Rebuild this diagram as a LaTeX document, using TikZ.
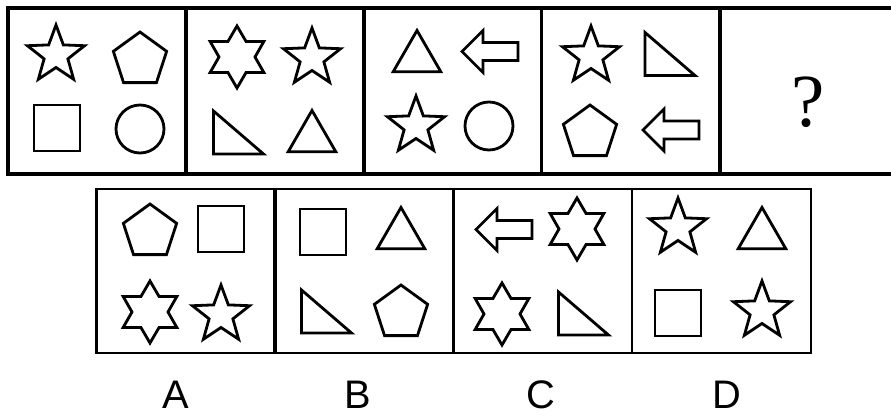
\documentclass[tikz,border=0pt]{standalone}
\usepackage{fontspec}
\newfontfamily\optfont{Liberation Sans}
\newfontfamily\qmarkfont{Liberation Serif}
\usepackage{tikz}

\tikzset{
  fig/.style={draw, line width=2.4pt, line join=miter},
  pics/fivestar/.style={code={
    \path[fig] (-90:30) \foreach \k in {1,...,9} {-- ({-90+36*\k}:{30-17.5*mod(\k,2)})} -- cycle;}},
  pics/sixstar/.style={code={
    \path[fig] (-90:31) \foreach \k in {1,...,11} {-- ({-90+30*\k}:{31-13*mod(\k,2)})} -- cycle;}},
  pics/pentagon/.style={code={
    \path[fig] (-90:28) \foreach \k in {1,...,4} {-- ({-90+72*\k}:28)} -- cycle;}},
  pics/triangle/.style={code={
    \path[fig] (-90:27.5) -- (30:27.5) -- (150:27.5) -- cycle;}},
  pics/righttri/.style={code={
    \path[fig] (-25,-21.5) -- (-25,21.5) -- (25,21.5) -- cycle;}},
  pics/square/.style={code={
    \path[fig] (-23,-23) rectangle (23,23);}},
  pics/ring/.style={code={
    \path[fig] (0,0) circle (24);}},
  pics/leftarrow/.style={code={
    \path[fig] (-28,0) -- (-7,-21) -- (-7,-9) -- (28,-9) -- (28,9) -- (-7,9) -- (-7,21) -- cycle;}},
}

\begin{document}
\begin{tikzpicture}[
  x=0.3mm, y=-0.3mm,
  toppanel/.style={draw, line width=2.8pt, minimum width=53.4mm, minimum height=49.8mm},
  optpanel/.style={draw, line width=2.2pt, minimum width=53.6mm, minimum height=49.2mm},
  optlabel/.style={font=\optfont\fontsize{34}{34}\selectfont}
]
  \useasboundingbox (0,0) rectangle (891,419);
  \clip (0,0) rectangle (891,419);

  % question row
  \node[toppanel] (q1) at (97,91)    {};
  \node[toppanel] (q2) at (275,91)   {};
  \node[toppanel] (q3) at (452.5,91) {};
  \node[toppanel] (q4) at (630.5,91) {};
  \node[toppanel] (q5) at (809,91)   {};

  \pic (q1a) at (56,55)   {fivestar};
  \pic (q1b) at (140,60)  {pentagon};
  \pic (q1c) at (57,128)  {square};
  \pic (q1d) at (140,129) {ring};

  \pic (q2a) at (237,57)      {sixstar};
  \pic (q2b) at (312,58)      {fivestar};
  \pic (q2c) at (238.5,132.5) {righttri};
  \pic (q2d) at (312,138)     {triangle};

  \pic (q3a) at (417,58)   {triangle};
  \pic (q3b) at (490,51.5) {leftarrow};
  \pic (q3c) at (416,126)  {fivestar};
  \pic (q3d) at (489,126)  {ring};

  \pic (q4a) at (591,56)  {fivestar};
  \pic (q4b) at (670,54)  {righttri};
  \pic (q4c) at (590,133) {pentagon};
  \pic (q4d) at (671,130) {leftarrow};

  \node[font=\qmarkfont\fontsize{64}{64}\selectfont, inner sep=0pt] (qm) at (808,102) {?};

  % options
  \node[optpanel] (oa) at (186,271)   {};
  \node[optpanel] (ob) at (364,271)   {};
  \node[optpanel] (oc) at (542.5,271) {};
  \node[optpanel] (od) at (721.5,271) {};

  \pic (oa1) at (150,232) {pentagon};
  \pic (oa2) at (221,229) {square};
  \pic (oa3) at (150,312) {sixstar};
  \pic (oa4) at (221,315) {fivestar};

  \pic (ob1) at (323,232)     {square};
  \pic (ob2) at (401,235)     {triangle};
  \pic (ob3) at (326.5,311.5) {righttri};
  \pic (ob4) at (401,313)     {pentagon};

  \pic (oc1) at (504,229.5)   {leftarrow};
  \pic (oc2) at (577,229)     {sixstar};
  \pic (oc3) at (502,314)     {sixstar};
  \pic (oc4) at (583.5,313.5) {righttri};

  \pic (od1) at (678,228) {fivestar};
  \pic (od2) at (762,235) {triangle};
  \pic (od3) at (678,313) {square};
  \pic (od4) at (762,311) {fivestar};

  \node[optlabel, inner sep=0pt] (la) at (176,395) {A};
  \node[optlabel, inner sep=0pt] (lb) at (358,395) {B};
  \node[optlabel, inner sep=0pt] (lc) at (541,395) {C};
  \node[optlabel, inner sep=0pt] (ld) at (727,395) {D};
\end{tikzpicture}
\end{document}
